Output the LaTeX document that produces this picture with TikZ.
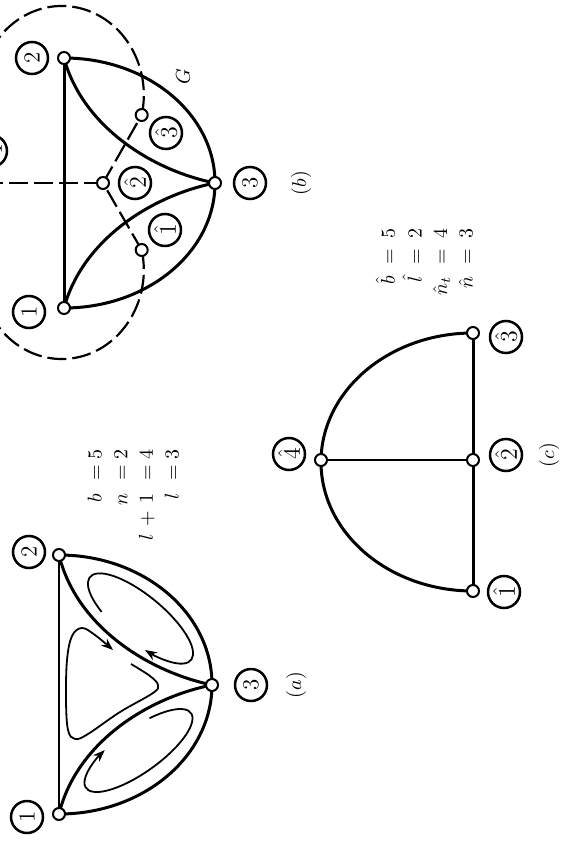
\documentclass[tikz,border=0pt]{standalone}
\usepackage{amsmath}
\usetikzlibrary{arrows.meta}
\pgfdeclarelayer{background}
\pgfsetlayers{background,main}
\begin{document}
\begin{tikzpicture}[x=0.5pt,y=0.5pt,
  vtx/.style={circle,draw,fill=white,line width=1pt,minimum size=6pt,inner sep=0pt},
  lbl/.style={circle,draw,line width=1.25pt,minimum size=16pt,inner sep=0pt,rotate=90,font=\fontsize{11.5}{12}\selectfont},
  capt/.style={rotate=90,inner sep=0pt,font=\fontsize{10}{12}\selectfont},
  eqs/.style={rotate=90,inner sep=0pt,font=\fontsize{10}{12}\selectfont},
  br/.style={line width=1.5pt},
  thinbr/.style={line width=1.1pt},
  dual/.style={line width=1.1pt,dash pattern=on 9.5pt off 3pt},
  mesh/.style={line width=0.9pt,-{Stealth[length=6pt,width=4.5pt]}}]
\useasboundingbox (0,0) rectangle (563,-844);
\clip (0,0) rectangle (563,-844);

% ---------- (a) ----------
\node[vtx] (a1) at (59,-814) {};
\node[vtx] (a2) at (59,-555) {};
\node[vtx] (a3) at (212,-685) {};
\node[lbl] (la1) at (27,-817) {1};
\node[lbl] (la2) at (29,-552) {2};
\node[lbl] (la3) at (251,-685) {3};
\node[capt] (capa) at (296,-685) {$(a)$};
\node[eqs] (eqa) at (135,-495) {\renewcommand{\arraystretch}{1.07}$\begin{array}{@{}r@{\mskip12mu=\mskip5mu}l@{}} b&5\\ n&2\\ l\,+\,1&4\\ l&3\end{array}$};
\begin{pgfonlayer}{background}
\draw[thinbr] (a1.center) -- (a2.center);
\draw[br] (a2.center) arc[start angle=90,end angle=-90,x radius=153,y radius=129.5];
\draw[br] (a2.center) .. controls (76,-625) and (146,-671) .. (a3.center);
\draw[br] (a1.center) .. controls (76,-744) and (146,-698) .. (a3.center);
\end{pgfonlayer}
% mesh currents
\draw[mesh,shift={(138.5,-750.5)},rotate=35.5] (64.5:64.5 and 22) arc[start angle=64.5,end angle=-245,x radius=64.5,y radius=22];
\draw[mesh,shift={(140.5,-618.5)},rotate=-39.4] (-121.6:65.4 and 23) arc[start angle=-121.6,end angle=-429,x radius=65.4,y radius=23];
\draw[mesh] plot[smooth,tension=0.6] coordinates {(131,-664) (150,-676) (158,-685) (153,-693) (120,-712) (88,-734) (75,-739) (68,-730) (66,-700) (67,-660) (72,-636) (82,-628) (95,-635) (113,-650)};

% ---------- (b) ----------
\node[vtx] (b1) at (64,-308) {};
\node[vtx] (b2) at (64,-58) {};
\node[vtx] (b3) at (215,-183) {};
\node[lbl] (lb1) at (29,-312) {1};
\node[lbl] (lb2) at (32,-58) {2};
\node[lbl] (lb3) at (250,-183) {3};
\node[capt] (capb) at (301,-183) {$(b)$};
\node[capt] (gname) at (183,-77) {$G$};
\node[vtx] (d1) at (141.7,-250) {};
\node[vtx] (d2) at (103,-183) {};
\node[vtx] (d3) at (141.7,-115) {};
\coordinate (d4) at (-40,-183);
\node[lbl] (ld1) at (165,-230) {$\hat{1}$};
\node[lbl] (ld2) at (135,-183) {$\hat{2}$};
\node[lbl] (ld3) at (166,-133) {$\hat{3}$};
\node[lbl] (ld4) at (-9,-151) {$\hat{4}$};
\begin{pgfonlayer}{background}
\draw[br] (b1.center) -- (b2.center);
\draw[br] (b2.center) arc[start angle=90,end angle=-90,x radius=151,y radius=125];
\draw[br] (b2.center) .. controls (82,-125) and (150,-170) .. (b3.center);
\draw[br] (b1.center) .. controls (82,-241) and (150,-196) .. (b3.center);
\draw[dual] (d1.center) -- (d2.center);
\draw[dual] (d2.center) -- (d3.center);
\draw[dual] (d2.center) -- (d4);
\draw[dual] (d3.center) arc[start angle=-13,end angle=145,x radius=82,y radius=89];
\draw[dual] (d1.center) arc[start angle=13,end angle=-145,x radius=82,y radius=89];
\end{pgfonlayer}

% ---------- (c) ----------
\node[vtx] (c4) at (321,-460) {};
\node[vtx] (c2) at (473,-460) {};
\node[vtx] (c1) at (473,-591) {};
\node[vtx] (c3) at (473,-333) {};
\node[lbl] (lc4) at (289,-454) {$\hat{4}$};
\node[lbl] (lc2) at (506,-455) {$\hat{2}$};
\node[lbl] (lc1) at (504,-592) {$\hat{1}$};
\node[lbl] (lc3) at (506,-337) {$\hat{3}$};
\node[capt] (capc) at (549,-455) {$(c)$};
\node[eqs] (eqc) at (428,-262) {\renewcommand{\arraystretch}{1.06}$\begin{array}{@{}r@{\mskip11mu=\mskip9mu}l@{}} \hat{b}&5\\ \hat{l}&2\\ \hat{n}_t&4\\ \hat{n}&3\end{array}$};
\begin{pgfonlayer}{background}
\draw[br] (c3.center) arc[start angle=90,end angle=270,x radius=152,y radius=129];
\draw[br] (c3.center) -- (c2.center) -- (c1.center);
\draw[thinbr] (c4.center) -- (c2.center);
\end{pgfonlayer}
\end{tikzpicture}
\end{document}
